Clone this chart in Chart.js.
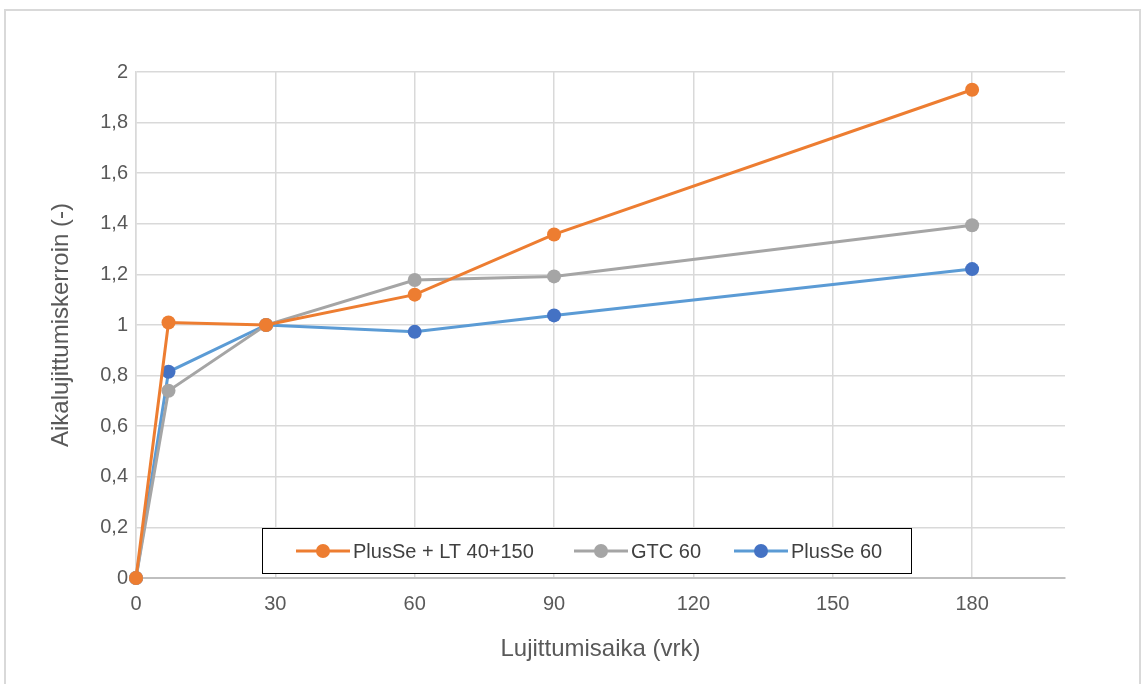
<!DOCTYPE html>
<html>
<head>
<meta charset="utf-8">
<script src="https://cdn.jsdelivr.net/npm/chart.js@4"></script>
<style>
  html, body { margin: 0; padding: 0; background: #fff; }
  #wrap { width: 1144px; height: 684px; }
</style>
</head>
<body>
<div id="wrap"><canvas id="myChart" width="1144" height="684"></canvas></div>
<script>
// Päivät
const days = [0, 7, 28, 60, 90, 180];
// Sarjat
const plusSeLT = [0, 1.01, 1.0, 1.12, 1.358, 1.93];
const gtc60 = [0, 0.74, 1.0, 1.178, 1.192, 1.394];
const plusSe60 = [0, 0.815, 1.0, 0.973, 1.038, 1.221];

const seriesNames = ['PlusSe + LT 40+150', 'GTC 60', 'PlusSe 60'];
const xTicks = [0, 30, 60, 90, 120, 150, 180];
const yTicks = [0, 0.2, 0.4, 0.6, 0.8, 1, 1.2, 1.4, 1.6, 1.8, 2];

const FONT = '"Liberation Sans", Arial, sans-serif';

function toPoints(vals) {
    return days.map((d, i) => ({ x: d, y: vals[i] }));
}

function makeSet(label, vals, lineColor, pointColor) {
    return {
        label: label,
        data: toPoints(vals),
        borderColor: lineColor,
        backgroundColor: pointColor,
        pointBackgroundColor: pointColor,
        pointBorderColor: pointColor,
        borderWidth: 3,
        pointRadius: 7,
        pointBorderWidth: 0,
        tension: 0,
        clip: false
    };
}

const datasets = [
    makeSet(seriesNames[0], plusSeLT, '#ED7D31', '#ED7D31'),
    makeSet(seriesNames[1], gtc60, '#A5A5A5', '#A5A5A5'),
    makeSet(seriesNames[2], plusSe60, '#5B9BD5', '#4472C4')
];

// Kehys ja selite
const frame = {
    id: 'frame',
    beforeDraw(chart) {
        const ctx = chart.ctx;
        ctx.save();
        ctx.strokeStyle = '#D9D9D9';
        ctx.lineWidth = 2;
        ctx.strokeRect(5, 10, 1135, 700);
        ctx.restore();
    },
    afterDraw(chart) {
        const ctx = chart.ctx;
        ctx.save();
        ctx.fillStyle = '#fff';
        ctx.fillRect(262, 528, 649, 45);
        ctx.strokeStyle = '#000';
        ctx.lineWidth = 1;
        ctx.strokeRect(262.5, 528.5, 649, 45);
        const starts = [296, 574, 734];
        const cy = 551;
        ctx.font = '20px ' + FONT;
        ctx.textBaseline = 'middle';
        chart.data.datasets.forEach((ds, i) => {
            const x0 = starts[i];
            ctx.strokeStyle = ds.borderColor;
            ctx.lineWidth = 3;
            ctx.beginPath();
            ctx.moveTo(x0, cy);
            ctx.lineTo(x0 + 54, cy);
            ctx.stroke();
            ctx.fillStyle = ds.pointBackgroundColor;
            ctx.beginPath();
            ctx.arc(x0 + 27, cy, 7, 0, Math.PI * 2);
            ctx.fill();
            ctx.fillStyle = '#404040';
            ctx.fillText(ds.label, x0 + 57, cy + 1);
        });
        ctx.restore();
    }
};

const ctx = document.getElementById('myChart').getContext('2d');
const chart = new Chart(ctx, {
    type: 'line',
    data: { datasets: datasets },
    options: {
        responsive: false,
        animation: false,
        layout: { padding: { left: 0, right: 79, top: 72, bottom: 0 } },
        plugins: {
            legend: { display: false },
            tooltip: { enabled: false }
        },
        scales: {
            x: {
                type: 'linear',
                min: 0,
                max: 200,
                afterBuildTicks: (s) => { s.ticks = xTicks.map(v => ({ value: v })); },
                afterFit: (s) => { s.height = 106; },
                ticks: { color: '#595959', font: { family: FONT, size: 20 }, padding: 14 },
                grid: { color: '#D9D9D9', lineWidth: 1.5, drawTicks: false },
                border: { color: '#BFBFBF', width: 2 },
                title: {
                    display: true,
                    text: 'Lujittumisaika (vrk)',
                    color: '#595959',
                    font: { family: FONT, size: 24 },
                    padding: { top: 0, bottom: 20 }
                }
            },
            y: {
                min: 0,
                max: 2,
                afterBuildTicks: (s) => { s.ticks = yTicks.map(v => ({ value: v })); },
                afterFit: (s) => { s.width = 136; },
                ticks: {
                    color: '#595959',
                    font: { family: FONT, size: 20 },
                    padding: 8,
                    callback: (v) => String(Math.round(v * 10) / 10).replace('.', ',')
                },
                grid: { color: '#D9D9D9', lineWidth: 1.5, drawTicks: false },
                border: { color: '#D9D9D9', width: 1.5 },
                title: {
                    display: true,
                    text: 'Aikalujittumiskerroin (-)',
                    color: '#595959',
                    font: { family: FONT, size: 24 },
                    padding: { top: 47, bottom: 0 }
                }
            }
        }
    },
    plugins: [frame]
});
</script>
</body>
</html>
